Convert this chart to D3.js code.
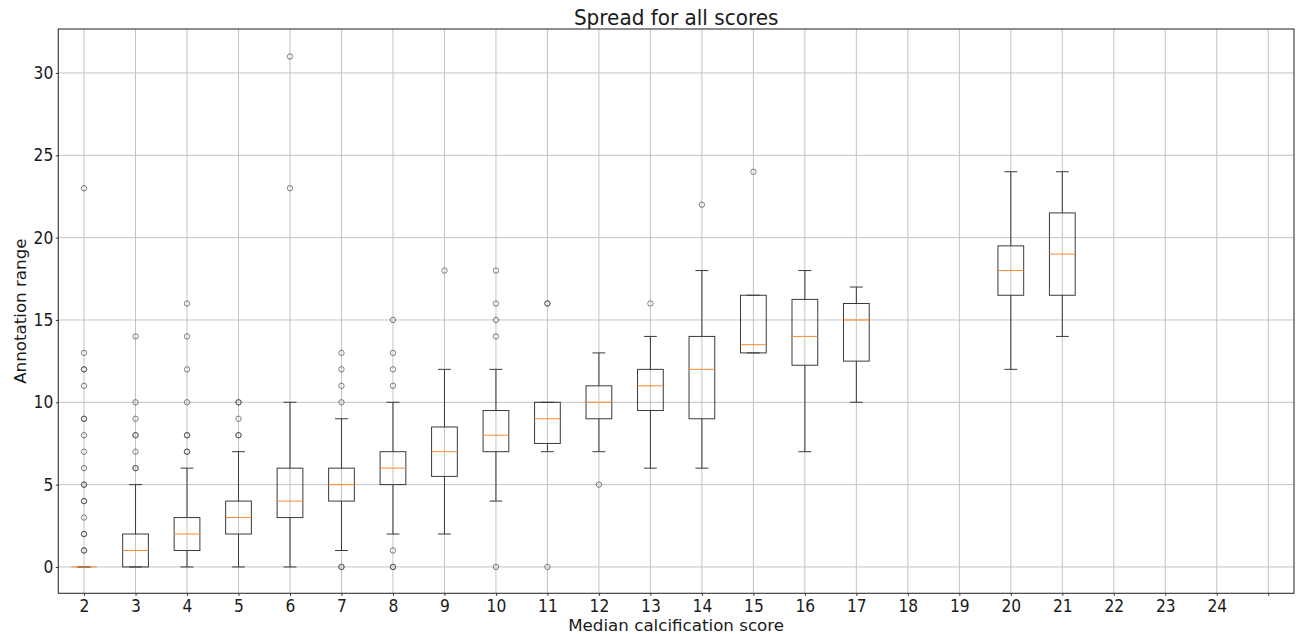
<!DOCTYPE html>
<html>
<head>
<meta charset="utf-8">
<script src="https://cdn.jsdelivr.net/npm/d3@7"></script>
<style>
  html, body { margin: 0; padding: 0; background: #fff; }
  svg { display: block; font-family: "DejaVu Sans", sans-serif; }
</style>
</head>
<body>
<svg id="chart" width="1299" height="634"></svg>
<script>
// Median calcification score categories (the last slot has no label)
const categories = ["2","3","4","5","6","7","8","9","10","11","12","13","14","15","16","17","18","19","20","21","22","23","24",""];

// Box statistics per category (null = no data for that score)
const medians      = [0, 1, 2, 3, 4, 5, 6, 7, 8, 9, 10, 11, 12, 13.5, 14, 15, null, null, 18, 19, null, null, null, null];
const lowerQuart   = [0, 0, 1, 2, 3, 4, 5, 5.5, 7, 7.5, 9, 9.5, 9, 13, 12.25, 12.5, null, null, 16.5, 16.5, null, null, null, null];
const upperQuart   = [0, 2, 3, 4, 6, 6, 7, 8.5, 9.5, 10, 11, 12, 14, 16.5, 16.25, 16, null, null, 19.5, 21.5, null, null, null, null];
const whiskerLow   = [0, 0, 0, 0, 0, 1, 2, 2, 4, 7, 7, 6, 6, 13, 7, 10, null, null, 12, 14, null, null, null, null];
const whiskerHigh  = [0, 5, 6, 7, 10, 9, 10, 12, 12, 10, 13, 14, 18, 16.5, 18, 17, null, null, 24, 24, null, null, null, null];

// Outlying annotation ranges (repeated values are overlapping points)
const outliers = [
  [1, 1, 2, 2, 3, 4, 4, 5, 5, 6, 7, 8, 9, 9, 11, 12, 12, 13, 23],
  [6, 6, 7, 8, 8, 9, 10, 14],
  [7, 7, 8, 8, 10, 12, 14, 16],
  [8, 8, 9, 10, 10],
  [23, 31],
  [0, 0, 10, 11, 12, 13],
  [0, 0, 1, 11, 12, 13, 15],
  [18],
  [0, 14, 15, 16, 18],
  [0, 16, 16],
  [5],
  [16],
  [22],
  [24],
  [], [], [], [], [], [], [], [], [], []
];

const yTicks = [0, 5, 10, 15, 20, 25, 30];

const svg = d3.select("#chart");
const plot = { left: 58.3, right: 1294, top: 29, bottom: 593.3 };

const x = d3.scaleLinear().domain([0.5, categories.length + 0.5]).range([plot.left, plot.right]);
const y = d3.scaleLinear().domain([-1.6, 32.67]).range([plot.bottom, plot.top]);

const positions = categories.map((c, i) => i + 1);
const boxHalf = (x(1.5) - x(1)) / 2;   // box width 0.5 in data units
const capHalf = boxHalf / 2;

// grid
const grid = svg.append("g").attr("stroke", "#c4c4c4").attr("stroke-width", 1);
positions.forEach(p => {
  grid.append("line").attr("x1", x(p)).attr("x2", x(p)).attr("y1", plot.top).attr("y2", plot.bottom);
});
yTicks.forEach(v => {
  grid.append("line").attr("x1", plot.left).attr("x2", plot.right).attr("y1", y(v)).attr("y2", y(v));
});

// axes
const xAxis = d3.axisBottom(x).tickValues(positions).tickFormat((d, i) => categories[i]).tickSize(2.5).tickPadding(3.5);
const yAxis = d3.axisLeft(y).tickValues(yTicks).tickFormat(d3.format("d")).tickSize(2.5).tickPadding(2.5);

const gx = svg.append("g").attr("transform", `translate(0,${plot.bottom})`).call(xAxis);
const gy = svg.append("g").attr("transform", `translate(${plot.left},0)`).call(yAxis);
[gx, gy].forEach(g => {
  g.select(".domain").remove();
  g.selectAll(".tick line").attr("stroke", "#333");
  g.selectAll(".tick text")
    .attr("fill", "#1a1a1a")
    .attr("transform", "scale(1,1.1)")
    .style("font-size", "15.5px")
    .style("font-family", "'DejaVu Sans', sans-serif");
});

// boxes
const boxes = svg.append("g").attr("fill", "none");
positions.forEach((p, i) => {
  if (medians[i] === null) return;
  const cx = x(p);
  const g = boxes.append("g");
  // whiskers
  g.append("line").attr("x1", cx).attr("x2", cx).attr("y1", y(lowerQuart[i])).attr("y2", y(whiskerLow[i])).attr("stroke", "#3a3a3a");
  g.append("line").attr("x1", cx).attr("x2", cx).attr("y1", y(upperQuart[i])).attr("y2", y(whiskerHigh[i])).attr("stroke", "#3a3a3a");
  // caps
  g.append("line").attr("x1", cx - capHalf).attr("x2", cx + capHalf).attr("y1", y(whiskerLow[i])).attr("y2", y(whiskerLow[i])).attr("stroke", "#3a3a3a");
  g.append("line").attr("x1", cx - capHalf).attr("x2", cx + capHalf).attr("y1", y(whiskerHigh[i])).attr("y2", y(whiskerHigh[i])).attr("stroke", "#3a3a3a");
  // box
  g.append("rect")
    .attr("x", cx - boxHalf).attr("width", boxHalf * 2)
    .attr("y", y(upperQuart[i])).attr("height", Math.max(0, y(lowerQuart[i]) - y(upperQuart[i])))
    .attr("stroke", "#3a3a3a").attr("stroke-width", 1);
  // median
  g.append("line").attr("x1", cx - boxHalf).attr("x2", cx + boxHalf).attr("y1", y(medians[i])).attr("y2", y(medians[i])).attr("stroke", "#ff8a30").attr("stroke-width", 1);
});

// fliers
const fliers = svg.append("g").attr("fill", "none").attr("stroke", "#444").attr("stroke-width", 0.9);
positions.forEach((p, i) => {
  outliers[i].forEach(v => {
    fliers.append("circle").attr("cx", x(p)).attr("cy", y(v)).attr("r", 2.7).attr("stroke-opacity", 0.75);
  });
});

// frame
svg.append("rect")
  .attr("x", plot.left).attr("y", plot.top)
  .attr("width", plot.right - plot.left).attr("height", plot.bottom - plot.top)
  .attr("fill", "none").attr("stroke", "#333").attr("stroke-width", 1.1);

// titles
svg.append("text")
  .attr("transform", `translate(${(plot.left + plot.right) / 2},24.5) scale(1,1.1)`)
  .attr("text-anchor", "middle").attr("fill", "#1a1a1a")
  .style("font-size", "20px")
  .text("Spread for all scores");

svg.append("text")
  .attr("x", (plot.left + plot.right) / 2).attr("y", 630.5)
  .attr("text-anchor", "middle").attr("fill", "#1a1a1a")
  .style("font-size", "16.7px")
  .text("Median calcification score");

svg.append("text")
  .attr("transform", `translate(26,${(plot.top + plot.bottom) / 2}) rotate(-90)`)
  .attr("text-anchor", "middle").attr("fill", "#1a1a1a")
  .style("font-size", "16.7px")
  .text("Annotation range");
</script>
</body>
</html>
